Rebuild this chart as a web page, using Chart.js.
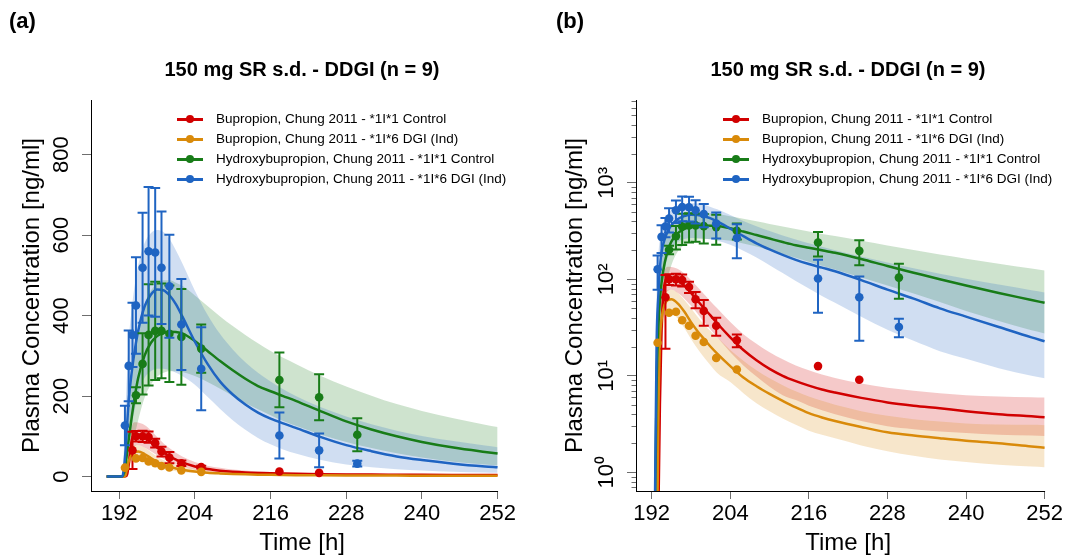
<!DOCTYPE html>
<html>
<head>
<meta charset="utf-8">
<title>Bupropion / hydroxybupropion - 150 mg SR s.d. - DDGI</title>
<script src="https://cdn.jsdelivr.net/npm/chart.js@4.4.1/dist/chart.umd.min.js"></script>
<style>
  html, body { margin: 0; padding: 0; background: #fff; }
  body { width: 1081px; height: 560px; position: relative; overflow: hidden;
         font-family: "Liberation Sans", Arial, Helvetica, sans-serif; color: #000; }
  canvas { position: absolute; top: 0; }
  #chartA { left: 0; }
  #chartB { left: 540px; }
  .tag { position: absolute; top: 8px; font-size: 22px; font-weight: bold; line-height: 26px; }
  .ptitle { position: absolute; top: 58px; width: 400px; margin-left: -200px; text-align: center;
            font-size: 20px; font-weight: bold; line-height: 22px; white-space: nowrap; }
  .lg-row { position: absolute; height: 20px; line-height: 20px; font-size: 13.5px; white-space: nowrap; }
  .lg-line { position: absolute; left: 0; top: 9px; height: 2.5px; width: 26px; }
  .lg-dot { position: absolute; left: 9px; top: 6px; width: 8px; height: 8px; border-radius: 50%; }
  .lg-text { position: absolute; top: 0; }
</style>
</head>
<body>
<canvas id="chartA" width="540" height="560"></canvas>
<canvas id="chartB" width="541" height="560"></canvas>
<div id="overlay"></div>
<script>
// ---------- texts ----------
const panelTags = ['(a)', '(b)'];
const panelTitle = '150 mg SR s.d. - DDGI (n = 9)';
const xTitle = 'Time [h]';
const yTitle = 'Plasma Concentration [ng/ml]';
const seriesNames = [
  'Bupropion, Chung 2011 - *1I*1 Control',
  'Bupropion, Chung 2011 - *1I*6 DGI (Ind)',
  'Hydroxybupropion, Chung 2011 - *1I*1 Control',
  'Hydroxybupropion, Chung 2011 - *1I*6 DGI (Ind)'
];
const seriesColors = ['#d10000', '#d98a0a', '#187c18', '#1f64c2'];

// ---------- tick labels ----------
const timeTicks = [192, 204, 216, 228, 240, 252];
const linTicks = [0, 200, 400, 600, 800];
const logTicks = [1, 10, 100, 1000];
const logTickLabels = ['10\u2070', '10\u00B9', '10\u00B2', '10\u00B3'];

// ---------- simulated population (median, 5th and 95th percentile) [ng/ml] ----------
const simTime = [190, 192, 192.25, 192.5, 192.75, 193, 193.25, 193.5, 194, 194.5, 195, 196, 197, 198, 199, 200, 201, 202,
                 204, 206, 208, 210, 212, 214, 216, 218, 220, 224, 228, 232, 236, 240, 245, 250, 252];

const bupCtrlMid = [0, 0, 0, 0, 0.01, 0.3, 5, 30, 92, 103, 103, 97, 86, 72, 60, 50, 42, 35,
                    25, 18.5, 14.5, 11.8, 10.0, 8.8, 7.9, 7.2, 6.7, 5.9, 5.3, 4.9, 4.6, 4.3, 4.0, 3.8, 3.72];
const bupCtrlLo  = [0, 0, 0, 0, 0.002, 0.1, 1.5, 12, 60, 76, 78, 72, 63, 53, 44, 36, 30, 25,
                    17.5, 12.8, 9.8, 7.7, 6.3, 5.6, 4.9, 4.4, 4.0, 3.4, 3.0, 2.8, 2.65, 2.55, 2.45, 2.4, 2.38];
const bupCtrlHi  = [0, 0, 0, 0, 0.05, 1, 15, 60, 125, 135, 134, 128, 115, 98, 83, 70, 59, 50,
                    36, 27, 21.5, 17.5, 14.8, 12.8, 11.4, 10.3, 9.5, 8.3, 7.5, 7.0, 6.6, 6.3, 6.1, 6.0, 5.96];

const bupDgiMid = [0, 0, 0, 0, 0.05, 3, 22, 38, 55, 61, 62, 56, 46, 36, 29, 24, 20, 17,
                   12.6, 9.6, 7.8, 6.5, 5.5, 4.7, 4.1, 3.7, 3.4, 2.95, 2.6, 2.4, 2.25, 2.12, 2.0, 1.85, 1.8];
const bupDgiLo  = [0, 0, 0, 0, 0.01, 0.8, 8, 20, 38, 43, 44, 39, 31, 24, 19, 15.5, 12.8, 10.7,
                   8.6, 6.6, 5.2, 4.3, 3.6, 3.1, 2.7, 2.45, 2.25, 1.9, 1.65, 1.48, 1.36, 1.28, 1.2, 1.15, 1.13];
const bupDgiHi  = [0, 0, 0, 0, 0.2, 8, 40, 58, 72, 78, 78, 72, 61, 50, 41, 34, 29, 25,
                   18.5, 14.3, 11.4, 9.4, 8.0, 6.9, 6.1, 5.5, 5.0, 4.3, 3.85, 3.55, 3.35, 3.2, 3.12, 3.1, 3.08];

const hbCtrlMid = [0, 0, 0.01, 0.3, 8, 30, 60, 92, 150, 202, 245, 300, 332, 349, 357, 360, 359, 356,
                   337, 312, 287, 264, 243, 225, 212, 200, 188, 162, 137, 117, 100, 86, 72, 61, 57];
const hbCtrlLo  = [0, 0, 0.002, 0.05, 2, 8, 20, 35, 65, 105, 140, 195, 228, 248, 258, 262, 262, 260,
                   250, 235, 218, 200, 183, 167, 152, 138, 126, 104, 86, 71, 58, 47, 37, 29.6, 27.5];
const hbCtrlHi  = [0, 0, 0.05, 1.5, 30, 85, 140, 190, 260, 320, 370, 428, 462, 480, 488, 488, 482, 474,
                   450, 424, 398, 374, 352, 331, 312, 295, 280, 250, 224, 201, 180, 163, 145, 129, 123];

const hbDgiMid = [0, 0, 0.02, 0.5, 22, 65, 130, 190, 262, 318, 362, 422, 452, 465, 463, 450, 428, 398,
                  335, 280, 236, 204, 179, 159, 144, 132, 121, 98, 78, 63, 50, 41, 32, 25, 22.8];
const hbDgiLo  = [0, 0, 0.005, 0.1, 5, 18, 45, 80, 130, 170, 205, 245, 262, 268, 268, 264, 258, 250,
                  228, 198, 168, 140, 116, 96, 80, 67, 57, 41, 30, 23, 18, 15, 12, 10, 9.4];
const hbDgiHi  = [0, 0, 0.1, 2.5, 70, 170, 260, 335, 420, 480, 525, 580, 605, 613, 608, 590, 562, 530,
                  462, 402, 354, 316, 284, 258, 236, 217, 200, 172, 149, 130, 114, 101, 88, 77, 73];

// ---------- observed data (mean, SD) [ng/ml] ----------
const bupCtrlObsTime = [194.1, 194.65, 195.7, 196.65, 197.7, 198.7, 199.95, 201.85, 205.0, 217.4, 223.7];
const bupCtrlObs     = [65, 100, 100, 98, 83, 62, 47, 33, 23.3, 12.6, 9.1];
const bupCtrlObsSd   = [46, 13, 14, 14, 11, 12, 14, 7, 3.5, null, null];

const bupDgiObsTime = [192.9, 194.65, 195.7, 196.65, 197.7, 198.7, 199.95, 201.85, 205.0];
const bupDgiObs     = [22, 45, 46, 37.6, 33, 26, 22.4, 15.3, 11.6];

const hbCtrlObsTime = [194.65, 195.7, 196.65, 197.7, 198.7, 199.95, 201.85, 205.0, 217.4, 223.7, 229.75];
const hbCtrlObs     = [202, 280, 352, 362, 362, 355, 347, 318, 240, 197, 104];
const hbCtrlObsSd   = [20, 76, 126, 122, 118, 120, 119, 60, 68, 57, 41];

const hbDgiObsTime = [192.9, 193.5, 194.1, 194.65, 195.7, 196.65, 197.7, 198.7, 199.95, 201.85, 205.0, 217.4, 223.7, 229.75];
const hbDgiObs     = [127, 275, 352, 425, 519, 560, 557, 519, 473, 378, 268, 102, 65, 32];
const hbDgiObsSd   = [49, 88, 80, 120, 137, 160, 160, 140, 128, 113, 103, 57, 42, 7];

// ---------- assembly ----------
const series = [
  { name: seriesNames[0], color: seriesColors[0], mid: bupCtrlMid, lo: bupCtrlLo, hi: bupCtrlHi,
    obsT: bupCtrlObsTime, obs: bupCtrlObs, sd: bupCtrlObsSd },
  { name: seriesNames[1], color: seriesColors[1], mid: bupDgiMid, lo: bupDgiLo, hi: bupDgiHi,
    obsT: bupDgiObsTime, obs: bupDgiObs, sd: null },
  { name: seriesNames[2], color: seriesColors[2], mid: hbCtrlMid, lo: hbCtrlLo, hi: hbCtrlHi,
    obsT: hbCtrlObsTime, obs: hbCtrlObs, sd: hbCtrlObsSd },
  { name: seriesNames[3], color: seriesColors[3], mid: hbDgiMid, lo: hbDgiLo, hi: hbDgiHi,
    obsT: hbDgiObsTime, obs: hbDgiObs, sd: hbDgiObsSd }
];

const FONT = '"Liberation Sans", Arial, Helvetica, sans-serif';
Chart.defaults.font.family = FONT;
Chart.defaults.color = '#000';

function rgba(hex, a) {
  const n = parseInt(hex.slice(1), 16);
  return `rgba(${(n >> 16) & 255},${(n >> 8) & 255},${n & 255},${a})`;
}

function makeDatasets(logScale) {
  const clean = v => (v == null || (logScale && v <= 0)) ? null : v;
  const pts = (ts, vs) => ts.map((t, i) => ({ x: t, y: clean(vs[i]) }));
  const out = [];
  series.forEach((s, k) => {
    const common = { type: 'line', borderWidth: 0, borderColor: 'rgba(0,0,0,0)', pointRadius: 0,
                     cubicInterpolationMode: 'monotone', order: 40 - k };
    out.push(Object.assign({ data: pts(simTime, s.lo), fill: false }, common));
    out.push(Object.assign({ data: pts(simTime, s.hi), fill: '-1', backgroundColor: rgba(s.color, 0.21) }, common));
  });
  series.forEach((s, k) => {
    out.push({ type: 'line', data: pts(simTime, s.mid), borderColor: s.color, borderWidth: 2.5,
               pointRadius: 0, fill: false, cubicInterpolationMode: 'monotone', order: 30 - k });
  });
  series.forEach((s, k) => {
    const ds = { type: 'line', data: pts(s.obsT, s.obs), showLine: false, pointRadius: 4.3,
                 pointBackgroundColor: s.color, pointBorderWidth: 0, pointBorderColor: s.color,
                 order: 20 - k, barColor: s.color };
    if (s.sd) {
      ds.errLo = s.obs.map((m, i) => s.sd[i] == null ? null : m - s.sd[i]);
      ds.errHi = s.obs.map((m, i) => s.sd[i] == null ? null : m + s.sd[i]);
    }
    out.push(ds);
  });
  return out;
}

// vertical mean +/- SD whiskers, drawn just beneath their points
const errorBars = {
  id: 'errorBars',
  beforeDatasetDraw(chart, args) {
    const ds = chart.data.datasets[args.index];
    if (!ds.errLo) return;
    const xs = chart.scales.x, ys = chart.scales.y, ctx = chart.ctx, a = chart.chartArea;
    ctx.save();
    ctx.beginPath();
    ctx.rect(a.left, a.top, a.right - a.left, a.bottom - a.top);
    ctx.clip();
    ctx.strokeStyle = ds.barColor;
    ctx.lineWidth = 2;
    const half = 5;
    ds.data.forEach((p, i) => {
      const lo = ds.errLo[i], hi = ds.errHi[i];
      if (lo == null || hi == null || lo <= 0 && ys.type === 'logarithmic') return;
      const px = xs.getPixelForValue(p.x);
      const y1 = ys.getPixelForValue(lo), y2 = ys.getPixelForValue(hi);
      ctx.beginPath();
      ctx.moveTo(px, y1); ctx.lineTo(px, y2);
      ctx.moveTo(px - half, y1); ctx.lineTo(px + half, y1);
      ctx.moveTo(px - half, y2); ctx.lineTo(px + half, y2);
      ctx.stroke();
    });
    ctx.restore();
  }
};

// time axis line (from the left edge to the last tick) and short intermediate log ticks
const axisExtras = {
  id: 'axisExtras',
  afterDraw(chart) {
    const ctx = chart.ctx, a = chart.chartArea, xs = chart.scales.x, ys = chart.scales.y;
    ctx.save();
    ctx.strokeStyle = '#000';
    ctx.lineWidth = 1;
    const yb = Math.round(a.bottom) + 0.5;
    ctx.beginPath();
    ctx.moveTo(a.left, yb);
    ctx.lineTo(xs.getPixelForValue(timeTicks[timeTicks.length - 1]) + 0.5, yb);
    ctx.stroke();
    if (ys.type === 'logarithmic') {
      ctx.strokeStyle = '#6e6e6e';
      for (let e = -1; e <= 3; e++) {
        for (let m = 2; m <= 9; m++) {
          const v = m * Math.pow(10, e);
          if (v < ys.min || v > ys.max) continue;
          const py = Math.round(ys.getPixelForValue(v)) + 0.5;
          ctx.beginPath();
          ctx.moveTo(a.left - 4.5, py); ctx.lineTo(a.left, py);
          ctx.stroke();
        }
      }
    }
    ctx.restore();
  }
};

function xScale(min, max) {
  return {
    type: 'linear', min, max, bounds: 'data',
    afterBuildTicks: s => { s.ticks = timeTicks.map(v => ({ value: v })); },
    afterFit: s => { s.height = 69; },
    ticks: { autoSkip: false, maxRotation: 0, minRotation: 0, padding: 2, color: '#000',
             font: { size: 22 }, callback: v => String(v) },
    grid: { drawOnChartArea: false, drawTicks: true, tickLength: 8, color: '#6e6e6e', tickColor: '#6e6e6e' },
    border: { display: false },
    title: { display: true, text: xTitle, color: '#000', font: { size: 24 }, padding: { top: 0, bottom: 2 } }
  };
}

function yScale(isLog, boxWidth, tickPad, titlePad) {
  const base = {
    afterFit: s => { s.width = boxWidth; },
    ticks: { autoSkip: false, minRotation: 90, maxRotation: 90, crossAlign: 'center', padding: tickPad,
             color: '#000', font: { size: 22 } },
    grid: { drawOnChartArea: false, drawTicks: true, tickLength: 9, color: '#6e6e6e', tickColor: '#6e6e6e' },
    border: { display: true, color: '#000', width: 1 },
    title: { display: true, text: yTitle, color: '#000', font: { size: 24 }, padding: { top: titlePad, bottom: 0 } }
  };
  if (isLog) {
    return Object.assign(base, {
      type: 'logarithmic', min: 0.64, max: 7200, bounds: 'data',
      afterBuildTicks: s => { s.ticks = logTicks.map(v => ({ value: v, major: true })); },
      ticks: Object.assign(base.ticks, { callback: v => logTickLabels[logTicks.indexOf(v)] })
    });
  }
  return Object.assign(base, {
    type: 'linear', min: -36, max: 936, bounds: 'data',
    afterBuildTicks: s => { s.ticks = linTicks.map(v => ({ value: v })); },
    ticks: Object.assign(base.ticks, { callback: v => String(v) })
  });
}

function makeChart(id, isLog, xmin, xmax, yBox, rightPad, tickPad, titlePad) {
  return new Chart(document.getElementById(id), {
    data: { datasets: makeDatasets(isLog) },
    options: {
      responsive: false, animation: false, devicePixelRatio: 1,
      layout: { padding: { left: 0, right: rightPad, top: 100, bottom: 0 } },
      scales: { x: xScale(xmin, xmax), y: yScale(isLog, yBox, tickPad, titlePad) },
      plugins: { legend: { display: false }, tooltip: { enabled: false } }
    },
    plugins: [errorBars, axisExtras]
  });
}

makeChart('chartA', false, 187.52, 254.48, 91, 26.8, 1.5, 18);
makeChart('chartB', true, 189.6, 254.4, 96, 20.7, 3.5, 21);

// ---------- panel tags, titles, legends ----------
const overlay = document.getElementById('overlay');
function addDiv(cls, text, style) {
  const d = document.createElement('div');
  d.className = cls;
  if (text != null) d.textContent = text;
  Object.assign(d.style, style);
  overlay.appendChild(d);
  return d;
}
const panels = [
  { tagX: 9, titleX: 302, symX: 177, textX: 216 },
  { tagX: 556, titleX: 848, symX: 723, textX: 762 }
];
const legendRowY = [119.3, 139.3, 159.3, 179.3];
panels.forEach((p, i) => {
  addDiv('tag', panelTags[i], { left: p.tagX + 'px' });
  addDiv('ptitle', panelTitle, { left: p.titleX + 'px' });
  series.forEach((s, k) => {
    const row = addDiv('lg-row', null, { left: p.symX + 'px', top: (legendRowY[k] - 10) + 'px' });
    const ln = document.createElement('span'); ln.className = 'lg-line'; ln.style.background = s.color;
    const dt = document.createElement('span'); dt.className = 'lg-dot'; dt.style.background = s.color;
    const tx = document.createElement('span'); tx.className = 'lg-text'; tx.textContent = s.name;
    tx.style.left = (p.textX - p.symX) + 'px';
    row.appendChild(ln); row.appendChild(dt); row.appendChild(tx);
  });
});
</script>
</body>
</html>
